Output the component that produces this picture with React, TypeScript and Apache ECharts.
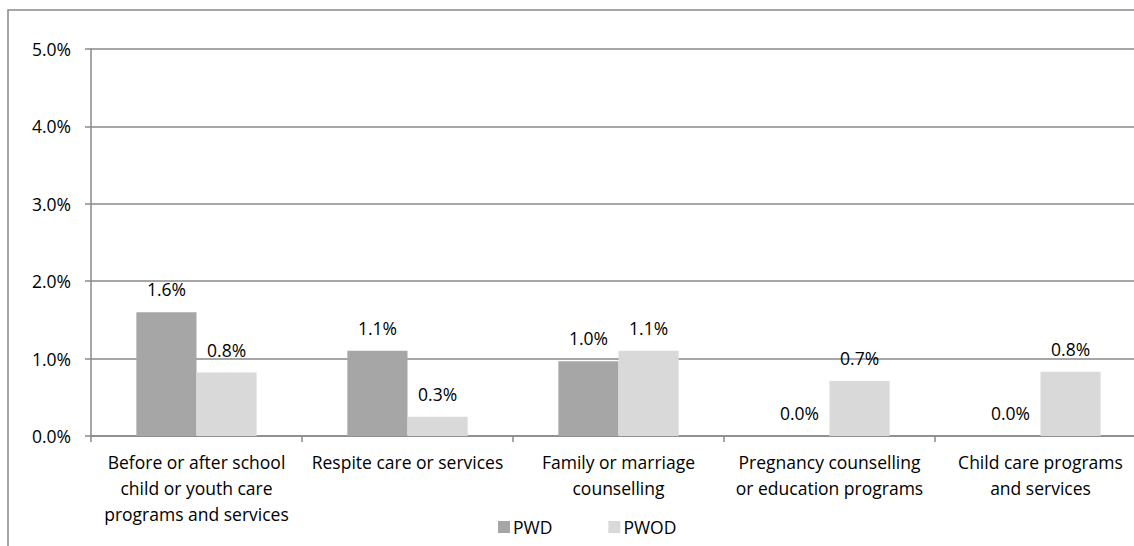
import React, { useEffect, useRef } from "react";
import * as echarts from "echarts";

const categories = [
  "Before or after school\nchild or youth care\nprograms and services",
  "Respite care or services",
  "Family or marriage\ncounselling",
  "Pregnancy counselling\nor education programs",
  "Child care programs\nand services",
];
const seriesNames = ["PWD", "PWOD"];
const pwd = [1.6, 1.1, 0.965, 0, 0];
const pwod = [0.82, 0.25, 1.1, 0.71, 0.83];
const yTicks = [0, 1, 2, 3, 4, 5];

const FONT = "'Open Sans', 'Noto Sans', sans-serif";
const GRAY = "#898989";
const FS = 17.5;

export default function App() {
  const ref = useRef<HTMLDivElement>(null);
  useEffect(() => {
    document.body.style.overflow = "hidden";
    const chart = echarts.init(ref.current!, null, { renderer: "svg" });
    const labelCfg = {
      show: true,
      position: "top" as const,
      distance: 14,
      color: "#000",
      fontSize: FS,
      fontFamily: FONT,
      formatter: (p: any) => `${Number(p.value).toFixed(1)}%`,
    };
    chart.setOption({
      animation: false,
      backgroundColor: "#fff",
      textStyle: { fontFamily: FONT },
      graphic: [
        {
          type: "rect",
          shape: { x: 8, y: 10, width: 1300, height: 700 },
          style: { fill: "none", stroke: GRAY, lineWidth: 1.5 },
          silent: true,
          z: -1,
        },
      ],
      legend: {
        left: 493,
        top: 513,
        itemWidth: 12,
        itemHeight: 12,
        itemGap: 56,
        icon: "rect",
        data: seriesNames,
        textStyle: { fontSize: FS, fontFamily: FONT, color: "#000", padding: [0, 0, 0, -2] },
      },
      grid: { left: 91, top: 49, right: 14, bottom: 124, containLabel: false },
      xAxis: {
        type: "category",
        data: categories,
        axisLine: { show: true, lineStyle: { color: GRAY, width: 1.5 } },
        axisTick: { show: true, length: 6, alignWithLabel: false, lineStyle: { color: GRAY, width: 1.5 } },
        axisLabel: {
          interval: 0,
          margin: 13,
          fontSize: FS,
          lineHeight: 26,
          color: "#000",
          fontFamily: FONT,
        },
      },
      yAxis: {
        type: "value",
        min: yTicks[0],
        max: yTicks[yTicks.length - 1],
        interval: 1,
        axisLine: { show: true, lineStyle: { color: GRAY, width: 1.5 } },
        axisTick: { show: true, length: 6, lineStyle: { color: GRAY, width: 1.5 } },
        splitLine: { show: true, lineStyle: { color: GRAY, width: 1.5 } },
        axisLabel: {
          margin: 20,
          fontSize: FS,
          color: "#000",
          fontFamily: FONT,
          formatter: (v: number) => `${v.toFixed(1)}%`,
        },
      },
      series: [
        {
          name: seriesNames[0],
          type: "bar",
          data: pwd,
          barGap: "0%",
          barCategoryGap: "43%",
          itemStyle: { color: "#a6a6a6" },
          label: labelCfg,
        },
        {
          name: seriesNames[1],
          type: "bar",
          data: pwod,
          barGap: "0%",
          barCategoryGap: "43%",
          itemStyle: { color: "#d9d9d9" },
          label: labelCfg,
        },
      ],
    });
    return () => chart.dispose();
  }, []);
  return (
    <div
      ref={ref}
      style={{ position: "fixed", left: 0, top: 0, width: 1160, height: 560 }}
    />
  );
}
